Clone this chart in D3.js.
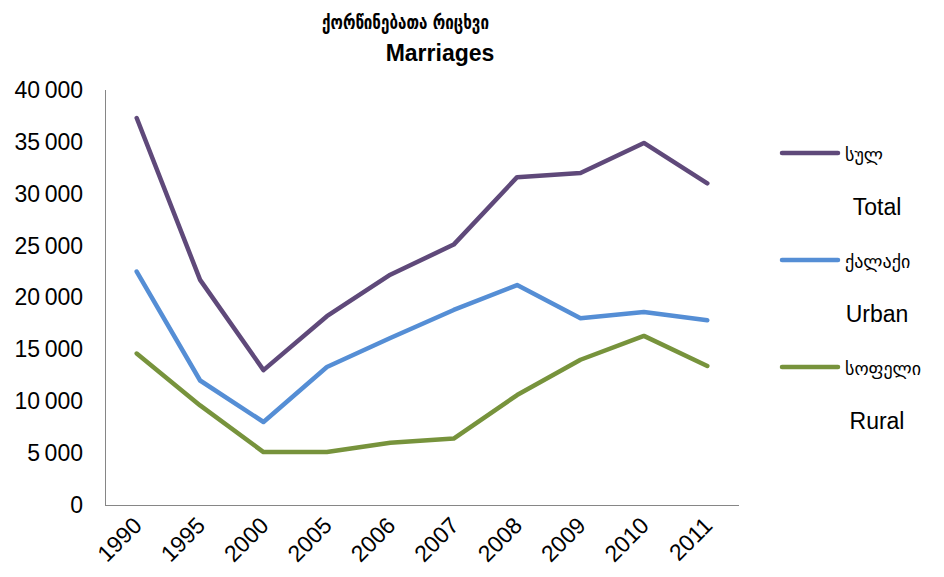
<!DOCTYPE html>
<html>
<head>
<meta charset="utf-8">
<script src="https://cdn.jsdelivr.net/npm/d3@7"></script>
<style>
  body { margin: 0; background: #fff; }
  .axis text { font-family: "Liberation Sans Narrow", "Arial Narrow", "Liberation Sans", sans-serif; font-size: 23px; fill: #000; }
  .axis path { stroke: #868686; }
  .title { font-family: "DejaVu Sans", sans-serif; font-weight: bold; }
  .lab { font-family: "Liberation Sans Narrow", "Arial Narrow", "Liberation Sans", sans-serif; font-size: 23px; }
  .geo { font-family: "DejaVu Sans", sans-serif; font-size: 18px; }
</style>
</head>
<body>
<div id="chart"></div>
<script>
var years = ['1990', '1995', '2000', '2005', '2006', '2007', '2008', '2009', '2010', '2011'];
var total = [37300, 21700, 13000, 18200, 22200, 25100, 31600, 32000, 34900, 31000];
var urban = [22500, 12000, 8000, 13300, 16100, 18800, 21200, 18000, 18600, 17800];
var rural = [14600, 9600, 5100, 5100, 6000, 6400, 10600, 14000, 16300, 13400];
var yTicks = [0, 5000, 10000, 15000, 20000, 25000, 30000, 35000, 40000];

var series = [
  { ka: 'სულ', en: 'Total', values: total, color: '#5f497a' },
  { ka: 'ქალაქი', en: 'Urban', values: urban, color: '#558ed5' },
  { ka: 'სოფელი', en: 'Rural', values: rural, color: '#77933c' }
];

var margin = { top: 90, left: 105 };
var width = 634, height = 415;

var svg = d3.select('#chart').append('svg')
    .attr('width', 944)
    .attr('height', 577);

var g = svg.append('g')
    .attr('transform', 'translate(' + margin.left + ',' + margin.top + ')');

var x = d3.scalePoint()
    .domain(years)
    .range([0, width])
    .padding(0.5);

var y = d3.scaleLinear()
    .domain([0, 40000])
    .range([height, 0]);

var fmt = function(d) { return d3.format(',')(d).replace(',', '\u2009'); };

g.append('g')
    .attr('class', 'axis')
    .call(d3.axisLeft(y).tickValues(yTicks).tickSize(0).tickPadding(22).tickFormat(fmt))
    .call(function(a) { a.select('.domain').attr('d', 'M0.5,0V' + (height + 0.5)); });

g.append('g')
    .attr('class', 'axis')
    .attr('transform', 'translate(0,' + height + ')')
    .call(d3.axisBottom(x).tickSize(0).tickPadding(0))
    .call(function(a) { a.select('.domain').attr('d', 'M0,0.5H' + width); })
  .selectAll('text')
    .attr('text-anchor', 'end')
    .attr('dy', 0)
    .attr('transform', 'translate(6,22) rotate(-45)');

var line = d3.line()
    .x(function(d, i) { return x(years[i]); })
    .y(function(d) { return y(d); });

series.forEach(function(s) {
  g.append('path')
      .datum(s.values)
      .attr('fill', 'none')
      .attr('stroke', s.color)
      .attr('stroke-width', 4.5)
      .attr('stroke-linejoin', 'round')
      .attr('stroke-linecap', 'round')
      .attr('d', line);
});

svg.append('text').attr('class', 'title')
    .attr('x', 322).attr('y', 29)
    .attr('font-size', 19)
    .attr('textLength', 167)
    .attr('lengthAdjust', 'spacingAndGlyphs')
    .text('ქორწინებათა რიცხვი');

svg.append('text')
    .attr('x', 440).attr('y', 61)
    .attr('text-anchor', 'middle')
    .attr('font-family', '"Liberation Sans Narrow", "Arial Narrow", sans-serif')
    .attr('font-weight', 'bold')
    .attr('font-size', 23)
    .text('Marriages');

var legend = svg.append('g');
series.forEach(function(s, i) {
  var ly = 153 + i * 107;
  legend.append('line')
      .attr('x1', 782).attr('x2', 838)
      .attr('y1', ly).attr('y2', ly)
      .attr('stroke', s.color)
      .attr('stroke-width', 4.5)
      .attr('stroke-linecap', 'round');
  legend.append('text').attr('class', 'geo')
      .attr('x', 845).attr('y', ly + 8)
      .text(s.ka);
  legend.append('text').attr('class', 'lab')
      .attr('x', 877).attr('y', ly + 62)
      .attr('text-anchor', 'middle')
      .text(s.en);
});
</script>
</body>
</html>
